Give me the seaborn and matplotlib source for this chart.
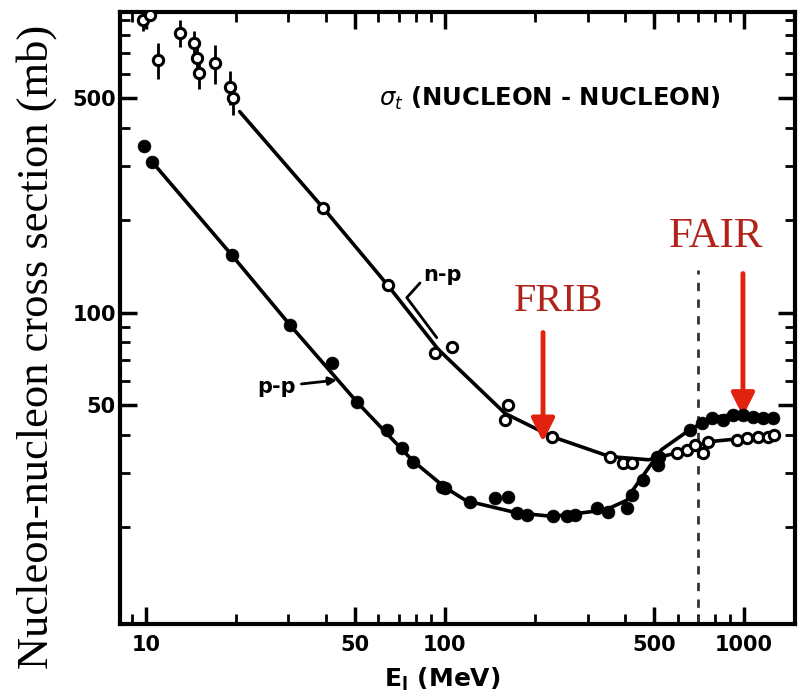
import numpy as np
import pandas as pd
import matplotlib
matplotlib.use("Agg")
import matplotlib.pyplot as plt
import seaborn as sns

# ---- data ----
np_E = [9.8, 10.3, 11.0, 13.0, 14.5, 14.8, 15.1, 17.0, 19.1, 19.5,
        39.1, 64.4, 92.7, 105.5, 159, 163, 228, 356, 394, 422, 512,
        597, 645, 685, 729, 759, 948, 1024, 1114, 1200, 1262]
np_sigma = [900, 930, 667, 816, 757, 676, 605, 651, 545, 500,
            220, 123, 74.2, 77.4, 44.8, 50.1, 39.5, 34.0, 32.4, 32.4, 34.0,
            35.0, 35.8, 37.2, 35.0, 38.0, 38.6, 39.2, 39.5, 39.5, 40.0]
np_err = [70, 0, 90, 80, 70, 70, 70, 95, 70, 60,
          0, 0, 0, 0, 0, 0, 0, 0, 0, 0, 0,
          0, 0, 0, 0, 0, 0, 0, 0, 0, 0]

pp_E = [9.9, 10.5, 19.4, 30.3, 41.9, 50.8, 64, 71.8, 78.2, 97.7, 100,
        121, 147, 163, 174, 188, 230, 256, 272, 322, 351, 406, 422,
        459, 515, 520, 660, 724, 782, 851, 919, 992, 1072, 1160, 1250]
pp_sigma = [348, 310, 154, 91.4, 68.8, 51.3, 41.6, 36.3, 32.7, 27.1, 26.8,
            24.2, 25.0, 25.2, 22.3, 22.0, 21.7, 21.7, 22.0, 23.2, 22.5, 23.2, 25.5,
            28.6, 32.0, 34.0, 41.6, 43.8, 45.5, 44.8, 46.6, 46.6, 45.9, 45.5, 45.5]

np_curve_E = [20.6, 39.1, 64.4, 95, 159, 228, 356, 480, 600, 690, 760, 950, 1262]
np_curve_sigma = [452, 220, 123, 76, 47, 39.5, 34, 33.2, 35.0, 36.5, 38.0, 38.8, 40.0]

pp_curve_E = [10.5, 19.4, 30.3, 51, 78, 100, 118, 174, 230, 345, 406, 426, 530, 660, 782, 919, 1250]
pp_curve_sigma = [310, 154, 91.4, 51, 33, 27, 24.4, 22.3, 21.7, 22.8, 24.5, 26.5, 35.8, 41.6, 45.5, 46.6, 45.5]

x_ticks = [10, 50, 100, 500, 1000]
x_ticklabels = ["10", "50", "100", "500", "1000"]
y_ticks = [50, 100, 500]
y_ticklabels = ["50", "100", "500"]

frib_E = 213
fair_E = 993
dash_E = 700

# ---- plotting ----
sns.set_theme(style="ticks")
plt.rcParams["font.family"] = ["DejaVu Sans"]
plt.rcParams.update({"axes.edgecolor": "black", "xtick.color": "black",
                     "ytick.color": "black", "text.color": "black",
                     "axes.labelcolor": "black"})

fig = plt.figure(figsize=(8.11, 6.97), dpi=100)
ax = fig.add_axes([0.148, 0.105, 0.832, 0.878])
ax.set_xscale("log")
ax.set_yscale("log")
ax.set_xlim(8.2, 1480)
ax.set_ylim(9.7, 955)

df_npc = pd.DataFrame({"E": np_curve_E, "s": np_curve_sigma})
df_ppc = pd.DataFrame({"E": pp_curve_E, "s": pp_curve_sigma})
sns.lineplot(data=df_npc, x="E", y="s", ax=ax, color="black", lw=2.6, sort=False)
sns.lineplot(data=df_ppc, x="E", y="s", ax=ax, color="black", lw=2.6, sort=False)

df_np = pd.DataFrame({"E": np_E, "s": np_sigma, "err": np_err})
df_pp = pd.DataFrame({"E": pp_E, "s": pp_sigma})
err_rows = df_np[df_np["err"] > 0]
ax.errorbar(err_rows["E"], err_rows["s"], yerr=err_rows["err"], fmt="none",
            ecolor="black", elinewidth=2, capsize=0, zorder=3)
sns.scatterplot(data=df_np, x="E", y="s", ax=ax, marker="o", s=55,
                facecolor="white", edgecolor="black", linewidth=2.2, zorder=4)
sns.scatterplot(data=df_pp, x="E", y="s", ax=ax, marker="o", s=85,
                color="black", edgecolor="black", linewidth=0.5, zorder=4)

# axes styling
for sp in ax.spines.values():
    sp.set_linewidth(3)
    sp.set_visible(True)
    sp.set_color("black")
ax.set_xticks(x_ticks)
ax.set_xticklabels(x_ticklabels)
ax.set_yticks(y_ticks)
ax.set_yticklabels(y_ticklabels)
ax.tick_params(which="major", direction="in", length=12, width=2.5,
               top=True, right=True, labelsize=15, pad=3)
ax.tick_params(axis="x", which="major", pad=8)
ax.tick_params(which="minor", direction="in", length=7, width=2,
               top=True, right=True)
for lab in ax.get_xticklabels() + ax.get_yticklabels():
    lab.set_fontweight("bold")
ax.set_xlabel(r"E$_\mathbf{l}$ (MeV)", fontsize=18, fontweight="bold")
ax.xaxis.set_label_coords(0.477, -0.068)
ax.xaxis.label.set_va("top")
ax.set_ylabel("Nucleon-nucleon cross section (mb)", fontsize=32,
              family="Liberation Serif")
ax.yaxis.set_label_coords(-0.093, 0.453)

# annotations
ax.text(224, 500, r"$\sigma_t$ (NUCLEON - NUCLEON)", fontsize=17.5, fontweight="bold",
        ha="center", va="center")
ax.text(84.4, 133, "n-p", fontsize=15, fontweight="bold", ha="left", va="center")
ax.plot([82.6, 74.6, 94.0], [125, 112, 82.9], color="black", lw=2)
ax.annotate("p-p", xy=(44.5, 60.5), xytext=(23.5, 57.4), fontsize=15, fontweight="bold",
            ha="left", va="center",
            arrowprops=dict(arrowstyle="-|>", lw=2, color="black", mutation_scale=12))

ax.plot([dash_E, dash_E], [9.7, 138], ls=(0, (3, 3)), color="#333333", lw=2)

red_txt = "#B0231A"
red_arr = "#E0220F"
ax.annotate("", xy=(frib_E, 37.2), xytext=(frib_E, 88),
            arrowprops=dict(arrowstyle="-|>", lw=3.5, color=red_arr, mutation_scale=35))
ax.text(frib_E * 1.13, 109, "FRIB", fontsize=29, color=red_txt,
        family="Liberation Serif", ha="center", va="center")
ax.annotate("", xy=(fair_E, 45), xytext=(fair_E, 137),
            arrowprops=dict(arrowstyle="-|>", lw=3.5, color=red_arr, mutation_scale=35))
ax.text(fair_E * 0.81, 177, "FAIR", fontsize=31, color=red_txt,
        family="Liberation Serif", ha="center", va="center")

fig.savefig("out.png", dpi=100)
